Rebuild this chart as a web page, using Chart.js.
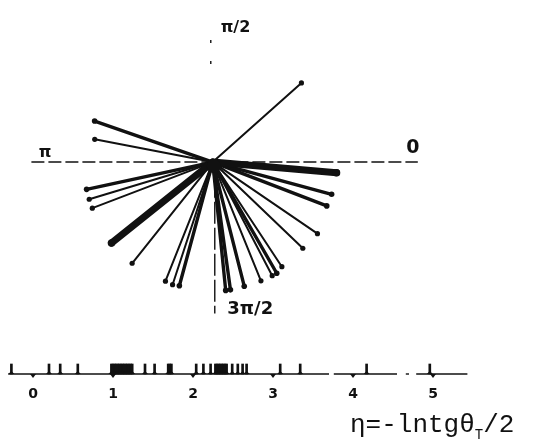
<!DOCTYPE html>
<html>
<head>
<meta charset="utf-8">
<script src="https://cdn.jsdelivr.net/npm/chart.js@4/dist/chart.umd.min.js"></script>
<style>
  html, body { margin: 0; padding: 0; background: #fff; }
  #wrap { position: relative; width: 533px; height: 446px; }
  #rays { position: absolute; left: 0; top: 0; }
  #eta { position: absolute; left: 0; top: 330px; }
</style>
</head>
<body>
<div id="wrap">
  <canvas id="rays" width="533" height="330"></canvas>
  <canvas id="eta" width="533" height="116"></canvas>
</div>
<script>
// azimuth of each track in degrees (0 = right, 90 = up)
const phi = [42, 160.7, 169, -5, -15.3, -21.2, -34.6, -44, -56.8, -60.3, -62.6, -68.1,
             -75.9, -82.2, -84.3, -105, -108, -111.5, -128.3, -141.1, -167.7, -163.1, -158.9];
// drawn length of each track
const pt = [121, 127, 122, 126, 125, 124, 129, 127, 128, 131, 131, 131,
            131, 132, 132, 131, 132, 131, 132, 132, 131, 131, 131];
// 0 = thin track, 1 = medium, 2 = heavy
const kind = [0, 1, 0, 2, 1, 1, 0, 0, 0, 1, 0, 0,
              1, 1, 1, 1, 0, 0, 0, 2, 1, 0, 0];
// pseudorapidity of each track on the lower axis
const etaTracks = [-0.27, 0.20, 0.34, 0.56,
  0.98, 1.00, 1.02, 1.04, 1.06, 1.08, 1.10, 1.12, 1.14, 1.16, 1.18, 1.20, 1.22, 1.24,
  1.40, 1.52, 1.69, 1.71, 1.73, 2.04, 2.13, 2.22,
  2.28, 2.30, 2.32, 2.34, 2.36, 2.38, 2.40, 2.42, 2.49, 2.56, 2.62, 2.67,
  3.09, 3.34, 4.17, 4.96];
const etaTicks = [0, 1, 2, 3, 4, 5];
const phiLabels = ['0', 'π/2', 'π', '3π/2'];

const ink = '#111';
const lineWidths = [2, 3.4, 7];
const tipSizes = [2.6, 2.8, 3.8];

// guide lines and quadrant labels
const rayGuides = {
  id: 'rayGuides',
  beforeDatasetsDraw(chart) {
    const { ctx, scales: { x, y } } = chart;
    const cx = x.getPixelForValue(0), cy = y.getPixelForValue(0);
    ctx.save();
    ctx.strokeStyle = ink;
    ctx.lineWidth = 1.4;
    ctx.setLineDash([13, 4]);
    ctx.beginPath();
    ctx.moveTo(x.getPixelForValue(-184), cy);
    ctx.lineTo(x.getPixelForValue(208), cy);
    ctx.stroke();
    ctx.setLineDash([3, 18]);
    ctx.beginPath();
    ctx.moveTo(cx - 2, y.getPixelForValue(125));
    ctx.lineTo(cx - 2, y.getPixelForValue(98));
    ctx.stroke();
    ctx.setLineDash([22, 4]);
    ctx.beginPath();
    ctx.moveTo(cx + 2, y.getPixelForValue(-14));
    ctx.lineTo(cx + 2, y.getPixelForValue(-155));
    ctx.stroke();
    ctx.restore();
  },
  afterDatasetsDraw(chart) {
    const { ctx, scales: { x, y } } = chart;
    // dense hub where the tracks meet
    ctx.save();
    ctx.fillStyle = ink;
    ctx.beginPath();
    ctx.arc(x.getPixelForValue(1), y.getPixelForValue(-4), 7, 0, Math.PI * 2);
    ctx.fill();
    ctx.textAlign = 'center';
    ctx.textBaseline = 'middle';
    ctx.font = 'bold 19px "DejaVu Sans"';
    ctx.fillText(phiLabels[0], x.getPixelForValue(203), y.getPixelForValue(14));
    ctx.font = 'bold 16px "DejaVu Sans"';
    ctx.fillText(phiLabels[1], x.getPixelForValue(23), y.getPixelForValue(137));
    ctx.fillText(phiLabels[2], x.getPixelForValue(-170), y.getPixelForValue(9));
    ctx.font = 'bold 18px "DejaVu Sans"';
    ctx.fillText(phiLabels[3], x.getPixelForValue(38), y.getPixelForValue(-151));
    ctx.restore();
  }
};

const rayData = phi.map((a, i) => {
  const r = a * Math.PI / 180;
  return [{ x: 0, y: 0 }, { x: pt[i] * Math.cos(r), y: pt[i] * Math.sin(r) }];
});

new Chart(document.getElementById('rays'), {
  type: 'scatter',
  data: {
    datasets: rayData.map((pts, i) => ({
      data: pts,
      showLine: true,
      borderColor: ink,
      backgroundColor: ink,
      borderWidth: lineWidths[kind[i]],
      borderCapStyle: 'round',
      pointRadius: [0, tipSizes[kind[i]]],
      pointBorderWidth: 0,
      pointHoverRadius: 0
    }))
  },
  options: {
    responsive: false,
    animation: false,
    events: [],
    layout: { padding: 0 },
    plugins: { legend: { display: false }, tooltip: { enabled: false } },
    scales: {
      x: { type: 'linear', min: -212, max: 321, display: false },
      y: { type: 'linear', min: -168, max: 162, display: false }
    }
  },
  plugins: [rayGuides]
});

// eta axis: line pieces, integer ticks, labels and title
const axisPieces = [[-0.31, 3.70], [3.76, 4.55], [4.66, 4.70], [4.79, 5.43]];
const etaAxis = {
  id: 'etaAxis',
  beforeDatasetsDraw(chart) {
    const { ctx, scales: { x, y } } = chart;
    const y0 = y.getPixelForValue(0);
    ctx.save();
    ctx.strokeStyle = ink;
    ctx.fillStyle = ink;
    ctx.lineWidth = 1.4;
    axisPieces.forEach(([a, b]) => {
      ctx.beginPath();
      ctx.moveTo(x.getPixelForValue(a), y0);
      ctx.lineTo(x.getPixelForValue(b), y0);
      ctx.stroke();
    });
    ctx.font = 'bold 14px "DejaVu Sans"';
    ctx.textAlign = 'center';
    ctx.textBaseline = 'middle';
    etaTicks.forEach(v => {
      const px = x.getPixelForValue(v);
      ctx.beginPath();
      ctx.moveTo(px - 3, y0);
      ctx.lineTo(px + 3, y0);
      ctx.lineTo(px, y0 + 4);
      ctx.closePath();
      ctx.fill();
      ctx.fillText(String(v), px, y0 + 20);
    });
    // title  η=-lntgθ_T/2
    ctx.textAlign = 'left';
    ctx.textBaseline = 'alphabetic';
    let tx = 350;
    const base = y0 + 58;
    ctx.font = '26px "Liberation Mono"';
    ctx.fillText('η=-lntgθ', tx, base);
    tx += ctx.measureText('η=-lntgθ').width;
    ctx.font = '14px "Liberation Mono"';
    ctx.fillText('T', tx, base + 7);
    tx += ctx.measureText('T').width;
    ctx.font = '26px "Liberation Mono"';
    ctx.fillText('/2', tx, base);
    ctx.restore();
  },
  afterDatasetsDraw(chart) {
    // small flared foot under every track spike
    const { ctx, scales: { x, y } } = chart;
    const y0 = y.getPixelForValue(0);
    ctx.save();
    ctx.fillStyle = ink;
    etaTracks.forEach(e => {
      const px = x.getPixelForValue(e);
      ctx.beginPath();
      ctx.moveTo(px - 3, y0);
      ctx.lineTo(px + 3, y0);
      ctx.lineTo(px, y0 - 3);
      ctx.closePath();
      ctx.fill();
    });
    ctx.restore();
  }
};

new Chart(document.getElementById('eta'), {
  type: 'bar',
  data: {
    datasets: [{
      data: etaTracks.map(e => ({ x: e, y: 1 })),
      backgroundColor: ink,
      barThickness: 2,
      borderWidth: 0
    }]
  },
  options: {
    responsive: false,
    animation: false,
    events: [],
    layout: { padding: 0 },
    plugins: { legend: { display: false }, tooltip: { enabled: false } },
    scales: {
      x: { type: 'linear', min: -0.4125, max: 6.25, offset: false, display: false },
      y: { min: -7.2, max: 4.4, display: false }
    }
  },
  plugins: [etaAxis]
});
</script>
</body>
</html>
